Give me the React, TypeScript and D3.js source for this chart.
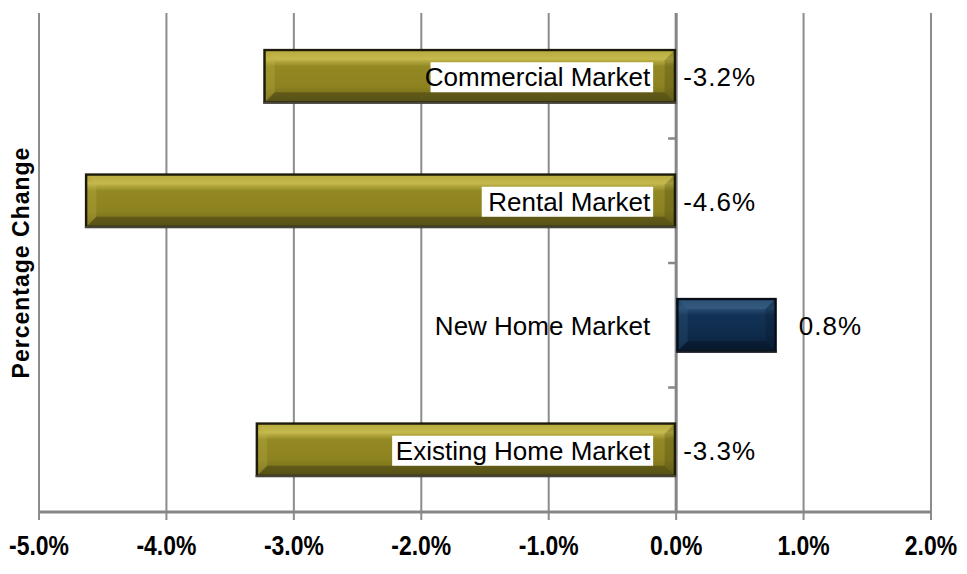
import React from "react";
import * as d3 from "d3";

const categories = ["Commercial Market", "Rental Market", "New Home Market", "Existing Home Market"];
const values = [-3.24, -4.64, 0.79, -3.3];
const xTicks = [-5, -4, -3, -2, -1, 0, 1, 2];
const yTitle = "Percentage Change";

const W = 967;
const H = 574;
const M = { left: 39, right: 36, top: 13, bottom: 62 };

const locale = d3.formatLocale({ decimal: ".", thousands: ",", grouping: [3], currency: ["", ""], minus: "-" });
const fmt = locale.format(".1f");

function Bar({ x0, x1, y, h, pos, id }: { x0: number; x1: number; y: number; h: number; pos: boolean; id: string }) {
  const w = x1 - x0;
  const b = 9;
  const inset = 2.5;
  const ix0 = x0 + inset, ix1 = x1 - inset, iy0 = y + inset, iy1 = y + h - inset;
  const light = pos ? "#3d6287" : "#c6ba4e";
  const dark = pos ? "#06121f" : "#3b3814";
  return (
    <g>
      <rect x={x0} y={y} width={w} height={h} fill={pos ? "#050d18" : "#1c1a08"} />
      <rect x={ix0} y={iy0} width={ix1 - ix0} height={iy1 - iy0} fill={`url(#g-${id})`} />
      <polygon points={`${ix0},${iy0} ${ix1},${iy0} ${ix1 - b},${iy0 + b} ${ix0 + b},${iy0 + b}`} fill={light} opacity={0.55} />
      <polygon points={`${ix0},${iy1} ${ix1},${iy1} ${ix1 - b},${iy1 - b} ${ix0 + b},${iy1 - b}`} fill={dark} opacity={0.45} />
      <polygon points={`${ix0},${iy0} ${ix0 + b},${iy0 + b} ${ix0 + b},${iy1 - b} ${ix0},${iy1}`} fill={light} opacity={0.25} />
      <polygon points={`${ix1},${iy0} ${ix1 - b},${iy0 + b} ${ix1 - b},${iy1 - b} ${ix1},${iy1}`} fill={dark} opacity={0.25} />
      <rect x={x0} y={y + h - 2} width={w} height={2} fill={pos ? "#1a1f26" : "#48463a"} />
    </g>
  );
}

export default function App() {
  const x = d3.scaleLinear().domain([-5, 2]).range([M.left, W - M.right]);
  const y0 = H - M.bottom;
  const y = d3.scaleBand<string>().domain(categories).range([M.top + 1, y0]).paddingInner(0.56).paddingOuter(0.28);
  const step = y.step();
  const x0 = x(0);
  const font = "'Liberation Sans', Arial, sans-serif";

  return (
    <svg width={W} height={H} style={{ position: "absolute", left: 0, top: 0, background: "#fff" }}>
      <defs>
        <linearGradient id="g-gold" x1="0" y1="0" x2="0" y2="1">
          <stop offset="0" stopColor="#a89c30" />
          <stop offset="0.15" stopColor="#c3b74b" />
          <stop offset="0.3" stopColor="#938923" />
          <stop offset="0.7" stopColor="#8c8220" />
          <stop offset="1" stopColor="#6f6819" />
        </linearGradient>
        <linearGradient id="g-navy" x1="0" y1="0" x2="0" y2="1">
          <stop offset="0" stopColor="#1d3d60" />
          <stop offset="0.15" stopColor="#2b4f75" />
          <stop offset="0.3" stopColor="#123255" />
          <stop offset="0.7" stopColor="#0f2b4b" />
          <stop offset="1" stopColor="#0a1f38" />
        </linearGradient>
      </defs>
      {xTicks.map((t) => (
        <line key={"g" + t} x1={x(t)} x2={x(t)} y1={M.top} y2={y0 + 8} stroke="#8c8c8c" strokeWidth={2} />
      ))}
      <line x1={x(-5)} x2={x(2)} y1={y0} y2={y0} stroke="#868686" strokeWidth={3} />
      <line x1={x0} x2={x0} y1={M.top} y2={y0} stroke="#868686" strokeWidth={3} />
      {categories.map((c, i) =>
        i === 0 ? null : (
          <line key={"t" + c} x1={x0 - 8} x2={x0} y1={(y(c) as number) - step * 0.28} y2={(y(c) as number) - step * 0.28} stroke="#868686" strokeWidth={2.5} />
        )
      )}
      {categories.map((c, i) => {
        const v = values[i];
        const a = x(Math.min(0, v));
        const b = x(Math.max(0, v));
        return <Bar key={c} x0={a} x1={b} y={y(c) as number} h={y.bandwidth()} pos={v > 0} id={v > 0 ? "navy" : "gold"} />;
      })}
      {categories.map((c, i) => {
        const cy = (y(c) as number) + y.bandwidth() / 2;
        const tw = c.length * 12.8;
        return (
          <g key={"l" + c}>
            {values[i] < 0 && <rect x={x0 - 23 - tw - 5} y={cy - 14} width={tw + 5} height={30} fill="#fff" />}
            <text x={x0 - 26} y={cy + 10} textAnchor="end" fontFamily={font} fontSize={26} fill="#000">
              {c}
            </text>
          </g>
        );
      })}
      {categories.map((c, i) => {
        const v = values[i];
        const cy = (y(c) as number) + y.bandwidth() / 2;
        const tx = v < 0 ? x0 + 7 : x(v) + 22;
        return (
          <text key={"v" + c} x={tx} y={cy + 10} fontFamily={font} fontSize={26} letterSpacing={1} fill="#000">
            {fmt(v) + "%"}
          </text>
        );
      })}
      {xTicks.map((t) => (
        <text key={"x" + t} transform={`translate(${x(t)}, ${H - 19}) scale(0.85, 1)`} textAnchor="middle" fontFamily={font} fontWeight="bold" fontSize={27} fill="#000">
          {fmt(t) + "%"}
        </text>
      ))}
      <text transform={`translate(29, ${(M.top + y0) / 2}) rotate(-90)`} textAnchor="middle" fontFamily={font} fontWeight="bold" fontSize={23} letterSpacing={1} fill="#000">
        {yTitle}
      </text>
    </svg>
  );
}
